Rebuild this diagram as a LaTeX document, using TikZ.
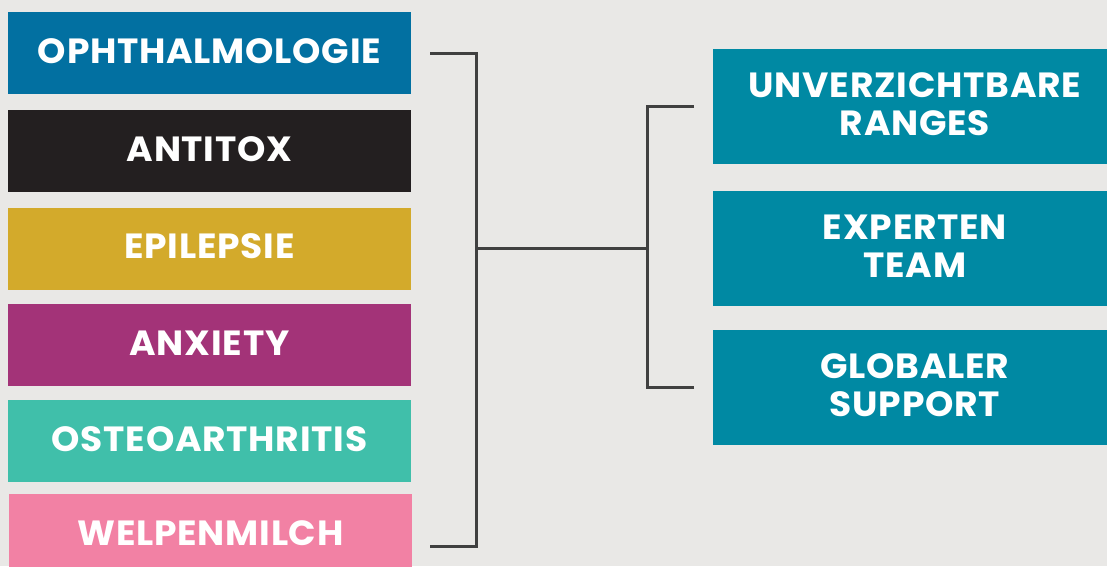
\documentclass[tikz,border=0pt]{standalone}
\usepackage{fontspec}
\setmainfont{Poppins}[LetterSpace=2.2,FakeStretch=1.03]
\definecolor{bgc}{HTML}{E9E8E6}
\definecolor{cblue}{HTML}{0270A1}
\definecolor{cblack}{HTML}{231F20}
\definecolor{cyellow}{HTML}{D3AA2B}
\definecolor{cpurple}{HTML}{A33378}
\definecolor{cgreen}{HTML}{40BFAA}
\definecolor{cpink}{HTML}{F281A4}
\definecolor{cteal}{HTML}{0089A3}
\definecolor{cline}{HTML}{404040}
\begin{document}
\begin{tikzpicture}[x=1pt,y=-1pt,
  lbox/.style={rectangle, minimum width=403pt, minimum height=82pt, inner sep=0pt,
    text=white, font=\bfseries\fontsize{35}{38}\selectfont, text height=24pt, text depth=3.4pt},
  rbox/.style={rectangle, minimum width=404pt, minimum height=115pt, inner sep=0pt,
    fill=cteal, text=white, align=center, font=\bfseries\fontsize{35}{37.5}\selectfont, text depth=5pt},
  conn/.style={draw=cline, line width=3pt}]
\useasboundingbox (0,0) rectangle (1107,566);
\clip (0,0) rectangle (1107,566);
\fill[bgc] (0,0) rectangle (1107,566);
\node[lbox, fill=cblue]   (oph) at (209.5,53)  {OPHTHALMOLOGIE};
\node[lbox, fill=cblack]  (ant) at (209.5,151) {ANTITOX};
\node[lbox, fill=cyellow] (epi) at (209.5,248.5) {EPILEPSIE};
\node[lbox, fill=cpurple] (anx) at (209.5,345) {ANXIETY};
\node[lbox, fill=cgreen]  (ost) at (209.5,441) {OSTEOARTHRITIS};
\node[lbox, fill=cpink]   (wel) at (210.5,535) {WELPENMILCH};
\node[rbox] (unv) at (915,106.5) {UNVERZICHTBARE\\RANGES};
\node[rbox] (exp) at (915,248.5) {EXPERTEN\\TEAM};
\node[rbox] (glo) at (915,387.5) {GLOBALER\\SUPPORT};
\coordinate (lt) at (430,53);
\coordinate (lb) at (430,546.5);
\coordinate (lm) at (476,248.5);
\coordinate (rm) at (647,248.5);
\coordinate (rt) at (694,106.5);
\coordinate (rb) at (694,387.5);
\draw[conn] (lt) -| (lm);
\draw[conn] (lb) -| (lm);
\draw[conn] (lm) -- (rm);
\draw[conn] (rt) -| (rm);
\draw[conn] (rb) -| (rm);
\end{tikzpicture}
\end{document}
